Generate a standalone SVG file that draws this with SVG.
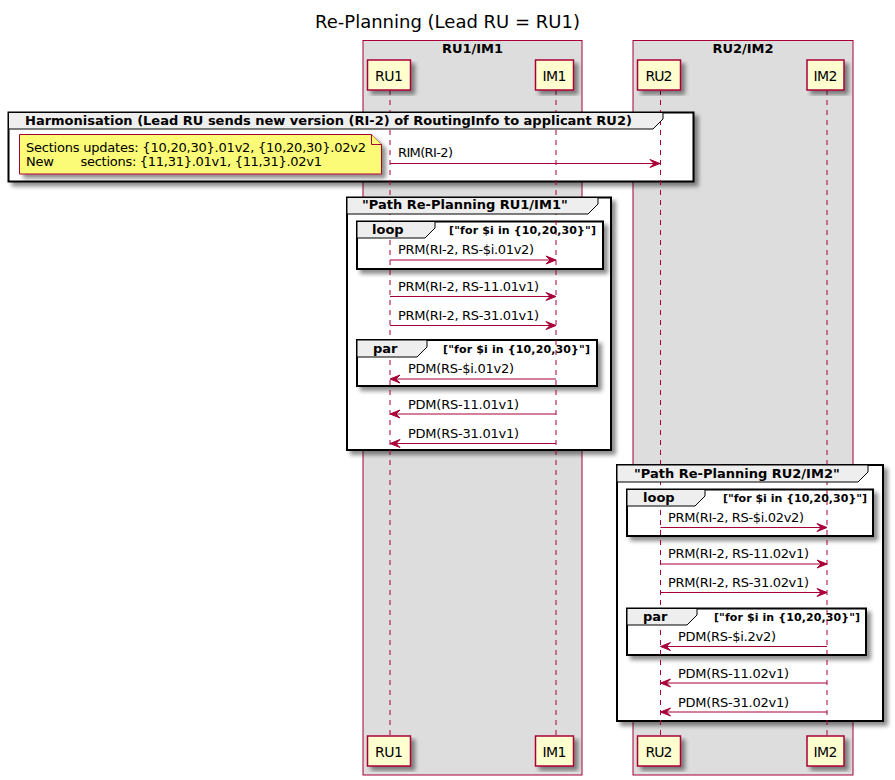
<svg xmlns="http://www.w3.org/2000/svg" width="895" height="780" viewBox="0 0 895 780">
<style>
text{font-family:"DejaVu Sans","Liberation Sans",sans-serif;fill:#000}
.title{font-size:18px}
.boxt{font-size:13px;font-weight:bold}
.part rect{fill:#FEFECE;stroke:#A80036;stroke-width:1.5}
.part text{font-size:14px;text-anchor:middle}
.life{stroke:#A80036;stroke-width:1;stroke-dasharray:5,5}
.gbox{fill:#fff;stroke:#000;stroke-width:2}
.tab{fill:#EEEEEE;stroke:#000;stroke-width:1}
.gh{font-size:13px;font-weight:bold}
.gc{font-size:11px;font-weight:bold}
.msg line{stroke:#A80036;stroke-width:1}
.msg polygon{fill:#A80036;stroke:#A80036;stroke-width:1}
.msg text{font-size:13px}
.note path{fill:#FBFB77;stroke:#A80036;stroke-width:1}
.note text{font-size:13px}
</style>
<defs>
<filter id="sh" x="-10%" y="-10%" width="130%" height="130%">
<feGaussianBlur in="SourceAlpha" stdDeviation="2"/>
<feOffset dx="4" dy="4" result="o"/>
<feComponentTransfer><feFuncA type="linear" slope="0.45"/></feComponentTransfer>
<feMerge><feMergeNode/><feMergeNode in="SourceGraphic"/></feMerge>
</filter>
</defs>
<rect width="895" height="780" fill="#fff"/>
<text class="title" x="447.5" y="28" text-anchor="middle">Re-Planning (Lead RU = RU1)</text>

<g id="box1">
<rect x="363" y="40.5" width="219" height="734.5" fill="#DDDDDD" stroke="#A80036" stroke-width="1"/>
<text class="boxt" x="472.5" y="53" text-anchor="middle">RU1/IM1</text>
</g>
<g id="box2">
<rect x="633" y="40.5" width="220" height="734.5" fill="#DDDDDD" stroke="#A80036" stroke-width="1"/>
<text class="boxt" x="743" y="53" text-anchor="middle">RU2/IM2</text>
</g>

<g id="groupframes">
<rect class="gbox" x="8.5" y="112.5" width="685" height="69" filter="url(#sh)"/>
<rect class="gbox" x="347" y="197.5" width="264" height="252.5" filter="url(#sh)"/>
<rect class="gbox" x="357" y="221.5" width="246" height="47.5" filter="url(#sh)"/>
<rect class="gbox" x="357" y="340" width="240" height="46" filter="url(#sh)"/>
<rect class="gbox" x="617" y="465" width="266" height="256" filter="url(#sh)"/>
<rect class="gbox" x="627" y="489.5" width="246" height="46.5" filter="url(#sh)"/>
<rect class="gbox" x="627" y="608.5" width="239" height="46.5" filter="url(#sh)"/>
</g>

<g id="lifelines">
<line class="life" x1="390" y1="90" x2="390" y2="736"/>
<line class="life" x1="556" y1="90" x2="556" y2="736"/>
<line class="life" x1="660.5" y1="90" x2="660.5" y2="736"/>
<line class="life" x1="827" y1="90" x2="827" y2="736"/>
</g>

<g id="grouptabs">
<path class="tab" d="M8.5,112.5 H663 V119 L653,129 H8.5 Z"/>
<text class="gh" x="25" y="125">Harmonisation (Lead RU sends new version (RI-2) of RoutingInfo to applicant RU2)</text>
<path class="tab" d="M347,197.5 H598 V204 L588,214 H347 Z"/>
<text class="gh" x="362" y="209">"Path Re-Planning RU1/IM1"</text>
<path class="tab" d="M357,221.5 H435 V228 L425,238 H357 Z"/>
<text class="gh" x="372" y="234">loop</text>
<text class="gc" x="449" y="234" textLength="147">["for $i in {10,20,30}"]</text>
<path class="tab" d="M357,340 H427 V347 L417,357 H357 Z"/>
<text class="gh" x="373" y="352.5">par</text>
<text class="gc" x="443" y="352.5" textLength="147">["for $i in {10,20,30}"]</text>
<path class="tab" d="M617,465 H868 V472 L858,482 H617 Z"/>
<text class="gh" x="634" y="478">"Path Re-Planning RU2/IM2"</text>
<path class="tab" d="M627,489.5 H705 V496 L695,506 H627 Z"/>
<text class="gh" x="643" y="502">loop</text>
<text class="gc" x="723" y="502" textLength="144">["for $i in {10,20,30}"]</text>
<path class="tab" d="M627,608.5 H697 V615 L687,625 H627 Z"/>
<text class="gh" x="643" y="621">par</text>
<text class="gc" x="714" y="621" textLength="146">["for $i in {10,20,30}"]</text>
</g>

<g id="note" class="note">
<path d="M19.5,134.5 H371.5 L381.5,144.5 V174 H19.5 Z" filter="url(#sh)"/>
<path d="M371.5,134.5 V144.5 H381.5" fill="none"/>
<text x="26" y="152" textLength="340">Sections updates: {10,20,30}.01v2, {10,20,30}.02v2</text>
<text x="26" y="165.5" textLength="296" xml:space="preserve">New       sections: {11,31}.01v1, {11,31}.02v1</text>
</g>

<g id="RU1top" class="part"><rect x="367.5" y="60" width="43" height="30" filter="url(#sh)"/><text x="389" y="81" textLength="28">RU1</text></g>
<g id="IM1top" class="part"><rect x="535.5" y="60" width="38" height="30" filter="url(#sh)"/><text x="554.5" y="81" textLength="24">IM1</text></g>
<g id="RU2top" class="part"><rect x="637.5" y="60" width="43" height="30" filter="url(#sh)"/><text x="659" y="81" textLength="27">RU2</text></g>
<g id="IM2top" class="part"><rect x="807" y="60" width="37" height="30" filter="url(#sh)"/><text x="825.5" y="81" textLength="24">IM2</text></g>
<g id="RU1bot" class="part"><rect x="367.5" y="736" width="43" height="30" filter="url(#sh)"/><text x="389" y="757" textLength="28">RU1</text></g>
<g id="IM1bot" class="part"><rect x="535.5" y="736" width="38" height="30" filter="url(#sh)"/><text x="554.5" y="757" textLength="24">IM1</text></g>
<g id="RU2bot" class="part"><rect x="637.5" y="736" width="43" height="30" filter="url(#sh)"/><text x="659" y="757" textLength="27">RU2</text></g>
<g id="IM2bot" class="part"><rect x="807" y="736" width="37" height="30" filter="url(#sh)"/><text x="825.5" y="757" textLength="24">IM2</text></g>

<g id="connectors" class="msg">
<line x1="390" y1="163.5" x2="659" y2="163.5"/><polygon points="650,159.5 660,163.5 650,167.5 654,163.5"/>
<text x="398" y="157" textLength="55">RIM(RI-2)</text>

<line x1="390" y1="260" x2="555" y2="260"/><polygon points="546,256 556,260 546,264 550,260"/>
<text x="398" y="254" textLength="136">PRM(RI-2, RS-$i.01v2)</text>
<line x1="390" y1="296.5" x2="555" y2="296.5"/><polygon points="546,292.5 556,296.5 546,300.5 550,296.5"/>
<text x="398" y="291" textLength="141">PRM(RI-2, RS-11.01v1)</text>
<line x1="390" y1="325.5" x2="555" y2="325.5"/><polygon points="546,321.5 556,325.5 546,329.5 550,325.5"/>
<text x="398" y="320" textLength="141">PRM(RI-2, RS-31.01v1)</text>

<line x1="391" y1="379" x2="556" y2="379"/><polygon points="400,375 390,379 400,383 396,379"/>
<text x="408" y="373" textLength="106">PDM(RS-$i.01v2)</text>
<line x1="391" y1="414" x2="556" y2="414"/><polygon points="400,410 390,414 400,418 396,414"/>
<text x="408" y="408.5" textLength="111">PDM(RS-11.01v1)</text>
<line x1="391" y1="443.5" x2="556" y2="443.5"/><polygon points="400,439.5 390,443.5 400,447.5 396,443.5"/>
<text x="408" y="438" textLength="111">PDM(RS-31.01v1)</text>

<line x1="660.5" y1="527.5" x2="826" y2="527.5"/><polygon points="817,523.5 827,527.5 817,531.5 821,527.5"/>
<text x="668" y="522" textLength="136">PRM(RI-2, RS-$i.02v2)</text>
<line x1="660.5" y1="564" x2="826" y2="564"/><polygon points="817,560 827,564 817,568 821,564"/>
<text x="668" y="558" textLength="141">PRM(RI-2, RS-11.02v1)</text>
<line x1="660.5" y1="592.5" x2="826" y2="592.5"/><polygon points="817,588.5 827,592.5 817,596.5 821,592.5"/>
<text x="668" y="587" textLength="141">PRM(RI-2, RS-31.02v1)</text>

<line x1="661.5" y1="646.5" x2="827" y2="646.5"/><polygon points="670.5,642.5 660.5,646.5 670.5,650.5 666.5,646.5"/>
<text x="678" y="641" textLength="98">PDM(RS-$i.2v2)</text>
<line x1="661.5" y1="683" x2="827" y2="683"/><polygon points="670.5,679 660.5,683 670.5,687 666.5,683"/>
<text x="678" y="677.5" textLength="111">PDM(RS-11.02v1)</text>
<line x1="661.5" y1="712" x2="827" y2="712"/><polygon points="670.5,708 660.5,712 670.5,716 666.5,712"/>
<text x="678" y="706.5" textLength="111">PDM(RS-31.02v1)</text>
</g>
</svg>
